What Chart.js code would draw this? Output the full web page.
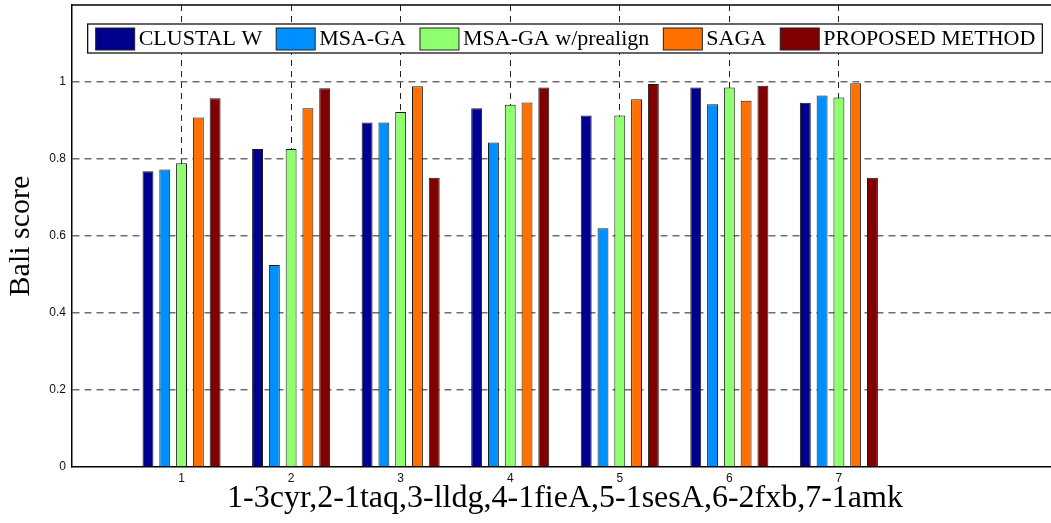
<!DOCTYPE html>
<html>
<head>
<meta charset="utf-8">
<script src="https://cdn.jsdelivr.net/npm/chart.js@4"></script>
<style>
  html, body { margin: 0; padding: 0; background: #fff; overflow: hidden; }
  #wrap { width: 1070px; height: 523px; }
</style>
</head>
<body>
<div id="wrap"><canvas id="chart" width="1070" height="523"></canvas></div>
<script>
const GROUPS       = [1, 2, 3, 4, 5, 6, 7];
const SERIES_NAMES = ['CLUSTAL W', 'MSA-GA', 'MSA-GA w/prealign', 'SAGA', 'PROPOSED METHOD'];
const CLUSTAL_W    = [0.768, 0.826, 0.895, 0.932, 0.913, 0.986, 0.946];
const MSA_GA       = [0.773, 0.525, 0.895, 0.843, 0.620, 0.942, 0.965];
const MSA_GA_PRE   = [0.789, 0.826, 0.922, 0.941, 0.913, 0.986, 0.960];
const SAGA         = [0.908, 0.932, 0.989, 0.947, 0.955, 0.951, 0.997];
const PROPOSED     = [0.958, 0.984, 0.751, 0.986, 0.995, 0.990, 0.751];
const Y_TICKS      = [0, 0.2, 0.4, 0.6, 0.8, 1];

const SERIES_VALUES = [CLUSTAL_W, MSA_GA, MSA_GA_PRE, SAGA, PROPOSED];
const SERIES_COLORS = ['#00008F', '#008FFF', '#8FFF70', '#FF7000', '#800000'];

const SERIF = "'Liberation Serif', 'Times New Roman', serif";
const SANS  = "'Liberation Sans', Arial, sans-serif";

// legend drawn inside the plot box, plus the top frame line
const insideLegend = {
    id: 'insideLegend',
    afterDraw(chart) {
        const { ctx, chartArea } = chart;
        ctx.save();

        ctx.strokeStyle = '#000';
        ctx.lineWidth = 1.5;
        ctx.beginPath();
        ctx.moveTo(chartArea.left, chartArea.top);
        ctx.lineTo(chartArea.right, chartArea.top);
        ctx.stroke();

        ctx.font = '22px ' + SERIF;
        const sw = 39, sh = 22, gapText = 4, gapItem = 14, padL = 8, padR = 7;
        const items = chart.data.datasets.map((ds) => ({
            label: ds.label,
            color: ds.backgroundColor,
            w: ctx.measureText(ds.label).width
        }));
        let total = padL + padR;
        items.forEach((it, i) => {
            total += sw + gapText + it.w + (i < items.length - 1 ? gapItem : 0);
        });
        const boxH = 29;
        const left = (chartArea.left + chartArea.right) / 2 - total / 2;
        const top = chartArea.top + 19;

        ctx.fillStyle = '#fff';
        ctx.fillRect(left, top, total, boxH);
        ctx.strokeStyle = '#000';
        ctx.lineWidth = 1.2;
        ctx.strokeRect(left, top, total, boxH);

        let x = left + padL;
        ctx.textBaseline = 'middle';
        items.forEach((it) => {
            ctx.fillStyle = it.color;
            ctx.fillRect(x, top + 4, sw, sh);
            ctx.strokeStyle = '#222';
            ctx.lineWidth = 1;
            ctx.strokeRect(x, top + 4, sw, sh);
            x += sw + gapText;
            ctx.fillStyle = '#000';
            ctx.fillText(it.label, x, top + boxH / 2 + 1);
            x += it.w + gapItem;
        });
        ctx.restore();
    }
};

const datasets = SERIES_NAMES.map((name, i) => ({
    label: name,
    data: GROUPS.map((g, j) => ({ x: g, y: SERIES_VALUES[i][j] })),
    backgroundColor: SERIES_COLORS[i],
    borderColor: '#1a1a1a',
    borderWidth: 1,
    categoryPercentage: 0.766,
    barPercentage: 0.65
}));

new Chart(document.getElementById('chart').getContext('2d'), {
    type: 'bar',
    data: { datasets },
    plugins: [insideLegend],
    options: {
        responsive: false,
        animation: false,
        devicePixelRatio: 1,
        layout: { padding: { top: 5, right: 12, left: 0, bottom: 0 } },
        plugins: {
            legend: { display: false },
            tooltip: { enabled: false }
        },
        scales: {
            x: {
                type: 'linear',
                min: 0,
                max: 9,
                offset: false,
                afterFit: (s) => { s.height = 56; s.paddingLeft = 0; s.paddingRight = 0; },
                ticks: {
                    stepSize: 1,
                    padding: 4,
                    color: '#111',
                    font: { family: SANS, size: 12 },
                    maxRotation: 0,
                    callback: (v) => (GROUPS.includes(v) ? String(v) : '')
                },
                grid: {
                    offset: false,
                    drawTicks: false,
                    lineWidth: 1,
                    color: (c) => (c.tick && GROUPS.includes(c.tick.value) ? '#222' : 'rgba(0,0,0,0)')
                },
                border: { display: true, color: '#000', width: 1.5, dash: [6, 5] },
                title: {
                    display: true,
                    text: '1-3cyr,2-1taq,3-lldg,4-1fieA,5-1sesA,6-2fxb,7-1amk',
                    color: '#000',
                    font: { family: SERIF, size: 32 },
                    padding: { top: 0, bottom: 5 }
                }
            },
            y: {
                min: 0,
                max: 1.2,
                afterFit: (s) => { s.width = 72; s.paddingTop = 0; s.paddingBottom = 0; },
                afterBuildTicks: (s) => {
                    s.ticks = Y_TICKS.concat([1.2]).map((v) => ({ value: v }));
                },
                ticks: {
                    padding: 6,
                    color: '#111',
                    font: { family: SANS, size: 12 },
                    callback: (v) => (Y_TICKS.includes(v) ? String(v) : '')
                },
                grid: {
                    drawTicks: false,
                    lineWidth: 1.5,
                    color: (c) => (c.tick && c.tick.value > 0 && c.tick.value < 1.1 ? '#6e6e6e' : 'rgba(0,0,0,0)')
                },
                border: { display: true, color: '#000', width: 1.5, dash: [7, 5] },
                title: {
                    display: true,
                    text: 'Bali score',
                    color: '#000',
                    font: { family: SERIF, size: 30 },
                    padding: { top: 3, bottom: 0 }
                }
            }
        }
    }
});
</script>
</body>
</html>
